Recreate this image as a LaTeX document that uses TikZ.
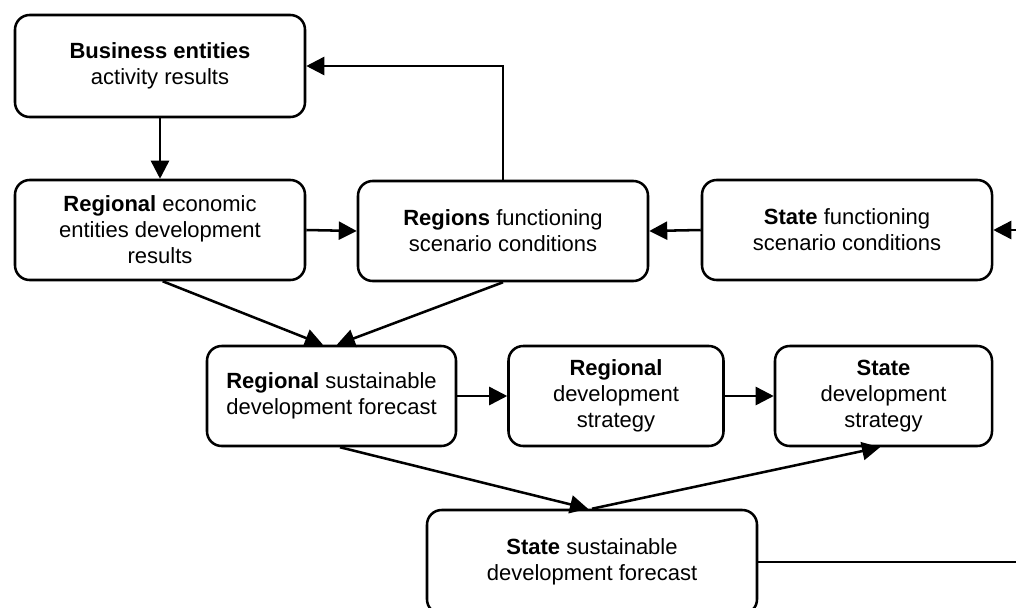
\documentclass[tikz,border=0pt]{standalone}
\usepackage{fontspec}
\setmainfont{Liberation Sans}
\usetikzlibrary{arrows.meta}

\tikzset{
  blk/.style={draw, line width=1.9pt, rounded corners=11pt, align=center,
    inner sep=0pt, font=\fontsize{16.5}{19.5}\selectfont},
  arr/.style={line width=1.9pt, -{Triangle[length=13.5pt,width=13.5pt]}},
}

\begin{document}
\begin{tikzpicture}[x=0.75pt,y=-0.75pt]
\useasboundingbox (0,0) rectangle (1016,607);
\fill[white] (0,0) rectangle (1016,607);
\clip (0,0) rectangle (1016,607);
% Drawing boxes
% Row 1: business entities
\node[blk, minimum width=217.5pt, minimum height=76.5pt] (bus) at (160,66) {\textbf{Business entities}\\activity results};
% Row 2: regional results and scenario conditions
\node[blk, minimum width=217.5pt, minimum height=75pt] (regEnt) at (160,230) {\textbf{Regional} economic\\entities development\\results};
\node[blk, minimum width=217.5pt, minimum height=75pt] (regFun) at (503,231) {\textbf{Regions} functioning\\scenario conditions};
\node[blk, minimum width=217.5pt, minimum height=75pt] (stFun) at (847,230) {\textbf{State} functioning\\scenario conditions};
% Row 3: regional forecast and strategies
\node[blk, minimum width=186.75pt, minimum height=75pt] (regFc) at (331.5,396) {\textbf{Regional} sustainable\\development forecast};
\node[blk, minimum width=161.25pt, minimum height=75pt] (regStr) at (616,396) {\textbf{Regional}\\development\\strategy};
\node[blk, minimum width=162.75pt, minimum height=75pt] (stStr) at (883.5,396) {\textbf{State}\\development\\strategy};
% Row 4: state forecast
\node[blk, minimum width=247.5pt, minimum height=78pt] (stFc) at (592,562) {\textbf{State} sustainable\\development forecast};
% Free ends beyond the right border
\coordinate (stIn) at (1040,230);
\coordinate (stOut) at (1040,562);
% Done with boxes; drawing arrows
\draw[arr] (bus.south) -- (regEnt.north);
\draw[arr] (regFun.north) |- (bus.east);
\draw[arr] (regEnt.east) -- (regFun.west);
\draw[arr] (stFun.west) -- (regFun.east);
\draw[arr] (stIn) -- (stFun.east);
\draw[arr] ([xshift=2pt]regEnt.south) -- ([xshift=-6.4pt]regFc.north);
\draw[arr] (regFun.south) -- ([xshift=4pt]regFc.north);
\draw[arr] (regFc.east) -- (regStr.west);
\draw[arr] (regStr.east) -- (stStr.west);
\draw[arr] ([xshift=6.4pt]regFc.south) -- ([xshift=-3pt]stFc.north);
\draw[arr] (stFc.north) -- ([xshift=-2.6pt]stStr.south);
\draw[line width=1.9pt] (stFc.east) -- (stOut);
% Done with arrows
\end{tikzpicture}
\end{document}
